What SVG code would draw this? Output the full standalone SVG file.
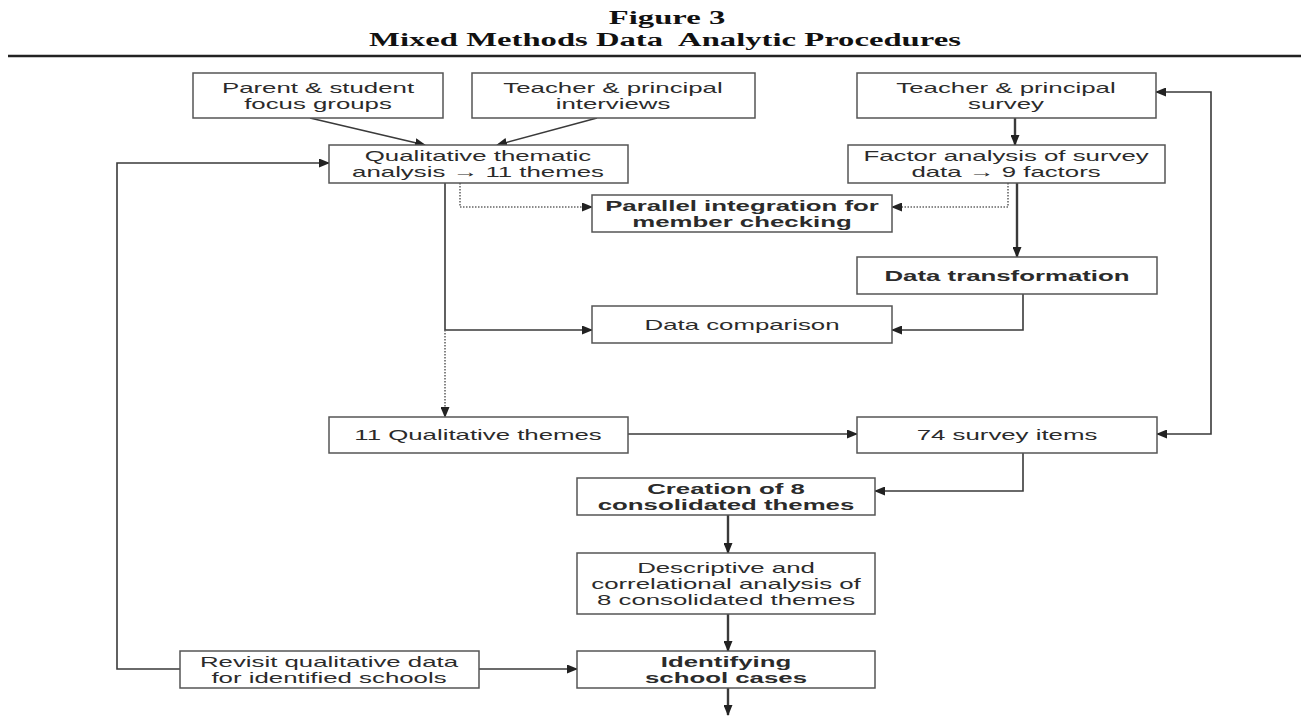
<svg xmlns="http://www.w3.org/2000/svg" width="1301" height="716" viewBox="0 0 1301 716">
<style>
.box{fill:#fff;stroke:#555;stroke-width:1.5}
.t{font-family:"Liberation Sans",Arial,sans-serif;font-size:15px;fill:#2b2b2b;text-anchor:middle}
.b{font-weight:bold}
.ttl{font-family:"Liberation Serif","Times New Roman",serif;font-size:19px;font-weight:bold;fill:#111;text-anchor:middle}
.c{fill:none;stroke:#3a3a3a;stroke-width:1.6}
.thick{stroke-width:2.4}
.dot{stroke-dasharray:1.5 1.5;stroke:#666}
</style>
<defs>
<marker id="ah" markerWidth="11" markerHeight="9" refX="10" refY="4.5" orient="auto-start-reverse" markerUnits="userSpaceOnUse">
<path d="M0,0 L11,4.5 L0,9 Z" fill="#222"/>
</marker>
</defs>
<rect width="1301" height="716" fill="#fff"/>
<g id="title">
<text class="ttl" transform="translate(667,24) scale(1.72,1)">Figure 3</text>
<text class="ttl" transform="translate(665,46) scale(1.72,1)">Mixed Methods Data <tspan dx="4">Analytic Procedures</tspan></text>
<line x1="8" y1="56" x2="1301" y2="56" stroke="#222" stroke-width="2.5"/>
</g>
<g id="connectors">
<path class="c" d="M310,118 L425,145" marker-end="url(#ah)"/>
<path class="c" d="M597,118 L497,145" marker-end="url(#ah)"/>
<path class="c thick" d="M1015,118 V145" marker-end="url(#ah)"/>
<path class="c" d="M180,669 H117 V163 H329" marker-end="url(#ah)"/>
<path class="c" d="M445,183 V330 H592" marker-end="url(#ah)"/>
<path class="c dot" d="M445,330 V417" marker-end="url(#ah)"/>
<path class="c dot" d="M460,183 V207 H592" marker-end="url(#ah)"/>
<path class="c dot" d="M1008,183 V207 H892" marker-end="url(#ah)"/>
<path class="c thick" d="M1017,183 V257" marker-end="url(#ah)"/>
<path class="c" d="M1023,294 V330 H892" marker-end="url(#ah)"/>
<path class="c" d="M628,434 H857" marker-end="url(#ah)"/>
<path class="c" d="M1156,92 H1211 V434 H1157" marker-start="url(#ah)" marker-end="url(#ah)"/>
<path class="c" d="M1023,453 V491 H875" marker-end="url(#ah)"/>
<path class="c thick" d="M728,515 V553" marker-end="url(#ah)"/>
<path class="c thick" d="M728,614 V651" marker-end="url(#ah)"/>
<path class="c" d="M479,669 H577" marker-end="url(#ah)"/>
<path class="c thick" d="M728,688 V715" marker-end="url(#ah)"/>
</g>
<g id="parent">
<rect class="box" x="193" y="73" width="250" height="45"/>
<text class="t" transform="translate(318,93) scale(1.72,1)">Parent &amp; student</text>
<text class="t" transform="translate(318,109) scale(1.72,1)">focus groups</text>
</g>
<g id="teacher-interviews">
<rect class="box" x="472" y="73" width="283" height="45"/>
<text class="t" transform="translate(613,93) scale(1.72,1)">Teacher &amp; principal</text>
<text class="t" transform="translate(613,109) scale(1.72,1)">interviews</text>
</g>
<g id="teacher-survey">
<rect class="box" x="857" y="73" width="299" height="45"/>
<text class="t" transform="translate(1006,93) scale(1.72,1)">Teacher &amp; principal</text>
<text class="t" transform="translate(1006,109) scale(1.72,1)">survey</text>
</g>
<g id="qualitative">
<rect class="box" x="329" y="145" width="299" height="38"/>
<text class="t" transform="translate(478,161) scale(1.72,1)">Qualitative thematic</text>
<text class="t" transform="translate(478,177) scale(1.72,1)">analysis → 11 themes</text>
</g>
<g id="factor">
<rect class="box" x="848" y="145" width="317" height="38"/>
<text class="t" transform="translate(1006,161) scale(1.72,1)">Factor analysis of survey</text>
<text class="t" transform="translate(1006,177) scale(1.72,1)">data → 9 factors</text>
</g>
<g id="parallel">
<rect class="box" x="592" y="195" width="300" height="37"/>
<text class="t b" transform="translate(742,211) scale(1.72,1)">Parallel integration for</text>
<text class="t b" transform="translate(742,227) scale(1.72,1)">member checking</text>
</g>
<g id="transformation">
<rect class="box" x="857" y="257" width="300" height="37"/>
<text class="t b" transform="translate(1007,281) scale(1.72,1)">Data transformation</text>
</g>
<g id="comparison">
<rect class="box" x="592" y="306" width="300" height="37"/>
<text class="t" transform="translate(742,330) scale(1.72,1)">Data comparison</text>
</g>
<g id="qual-themes">
<rect class="box" x="329" y="417" width="299" height="36"/>
<text class="t" transform="translate(478,440) scale(1.72,1)">11 Qualitative themes</text>
</g>
<g id="survey-items">
<rect class="box" x="857" y="417" width="300" height="36"/>
<text class="t" transform="translate(1007,440) scale(1.72,1)">74 survey items</text>
</g>
<g id="creation">
<rect class="box" x="577" y="478" width="298" height="37"/>
<text class="t b" transform="translate(726,494) scale(1.72,1)">Creation of 8</text>
<text class="t b" transform="translate(726,510) scale(1.72,1)">consolidated themes</text>
</g>
<g id="descriptive">
<rect class="box" x="577" y="553" width="298" height="61"/>
<text class="t" transform="translate(726,573) scale(1.72,1)">Descriptive and</text>
<text class="t" transform="translate(726,589) scale(1.72,1)">correlational analysis of</text>
<text class="t" transform="translate(726,605) scale(1.72,1)">8 consolidated themes</text>
</g>
<g id="revisit">
<rect class="box" x="180" y="651" width="299" height="37"/>
<text class="t" transform="translate(329,667) scale(1.72,1)">Revisit qualitative data</text>
<text class="t" transform="translate(329,683) scale(1.72,1)">for identified schools</text>
</g>
<g id="identifying">
<rect class="box" x="577" y="651" width="298" height="37"/>
<text class="t b" transform="translate(726,667) scale(1.72,1)">Identifying</text>
<text class="t b" transform="translate(726,683) scale(1.72,1)">school cases</text>
</g>
</svg>
